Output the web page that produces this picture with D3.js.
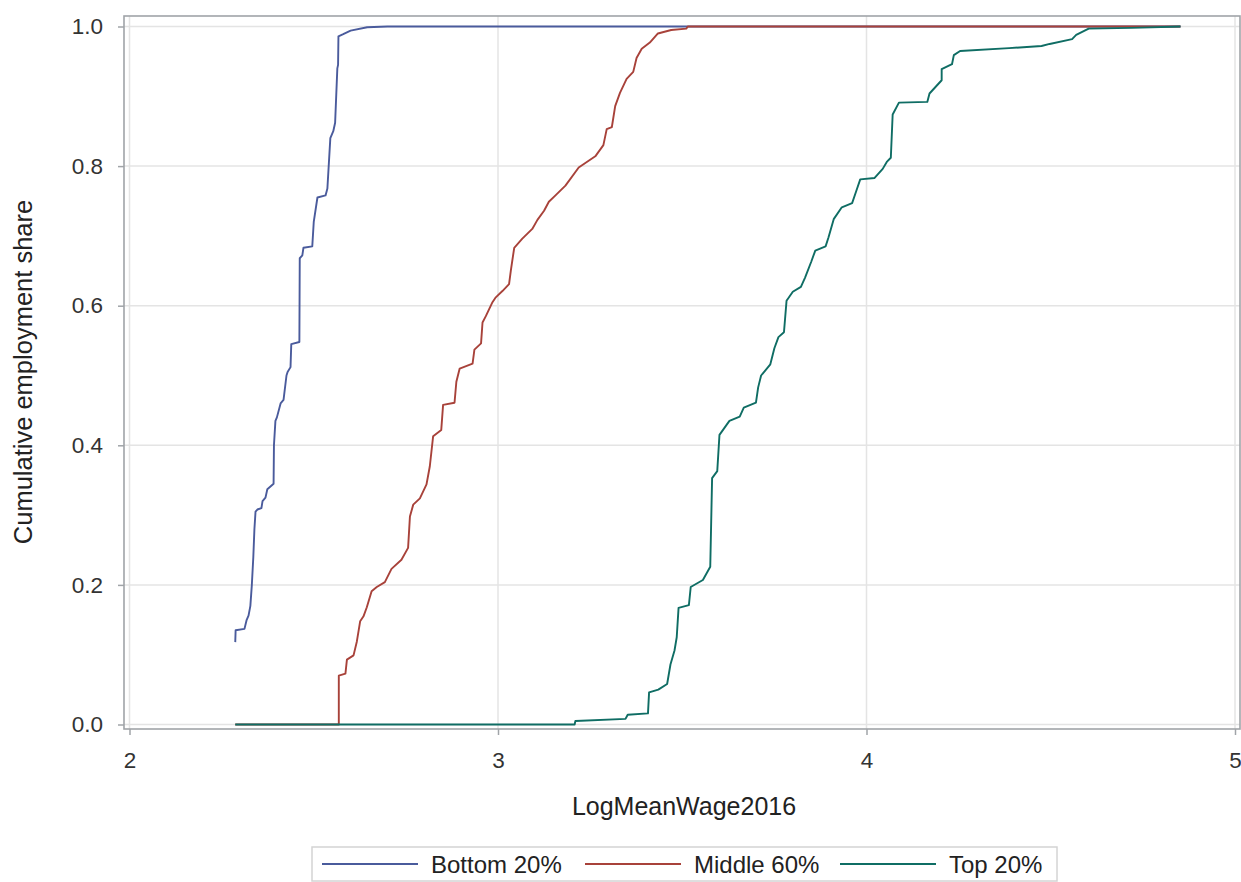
<!DOCTYPE html>
<html>
<head>
<meta charset="utf-8">
<script src="https://cdn.jsdelivr.net/npm/d3@7"></script>
<style>
  body { margin: 0; background: #fff; }
  svg text { font-family: "Liberation Sans", Arial, sans-serif; }
</style>
</head>
<body>
<div id="chart"></div>
<script>
// series names / colours
const seriesNames = ["Bottom 20%", "Middle 60%", "Top 20%"];
const seriesColors = ["#4a5b9c", "#A8423A", "#0f6d64"];

// Bottom 20%
const bottomX = [2.287, 2.288, 2.312, 2.318, 2.323, 2.328, 2.332, 2.336, 2.339, 2.342, 2.347, 2.358, 2.361, 2.369, 2.374, 2.391, 2.392, 2.396, 2.400, 2.410, 2.418, 2.426, 2.429, 2.437, 2.439, 2.461, 2.462, 2.469, 2.472, 2.496, 2.500, 2.510, 2.532, 2.537, 2.545, 2.553, 2.558, 2.564, 2.566, 2.567, 2.580, 2.600, 2.645, 2.700, 4.852];
const bottomY = [0.118, 0.135, 0.137, 0.150, 0.156, 0.170, 0.200, 0.240, 0.280, 0.305, 0.308, 0.310, 0.320, 0.325, 0.337, 0.345, 0.400, 0.435, 0.440, 0.460, 0.465, 0.500, 0.505, 0.512, 0.545, 0.548, 0.668, 0.672, 0.683, 0.685, 0.720, 0.755, 0.758, 0.768, 0.840, 0.850, 0.862, 0.940, 0.945, 0.986, 0.989, 0.994, 0.999, 1.000, 1.000];

// Middle 60%
const middleX = [2.287, 2.568, 2.568, 2.586, 2.590, 2.608, 2.617, 2.626, 2.635, 2.644, 2.657, 2.671, 2.693, 2.711, 2.738, 2.756, 2.761, 2.770, 2.788, 2.806, 2.815, 2.824, 2.846, 2.851, 2.882, 2.887, 2.896, 2.931, 2.936, 2.954, 2.958, 2.967, 2.985, 2.994, 3.012, 3.030, 3.035, 3.044, 3.066, 3.093, 3.107, 3.125, 3.138, 3.156, 3.183, 3.219, 3.264, 3.286, 3.295, 3.309, 3.318, 3.331, 3.349, 3.367, 3.376, 3.390, 3.412, 3.434, 3.470, 3.511, 3.515, 4.852];
const middleY = [0, 0, 0.070, 0.073, 0.093, 0.099, 0.119, 0.148, 0.155, 0.168, 0.191, 0.197, 0.204, 0.223, 0.236, 0.253, 0.298, 0.315, 0.324, 0.344, 0.370, 0.413, 0.422, 0.458, 0.461, 0.491, 0.510, 0.517, 0.537, 0.546, 0.576, 0.585, 0.605, 0.612, 0.621, 0.631, 0.651, 0.683, 0.696, 0.710, 0.723, 0.736, 0.749, 0.758, 0.772, 0.798, 0.814, 0.830, 0.853, 0.856, 0.886, 0.905, 0.925, 0.935, 0.955, 0.968, 0.977, 0.990, 0.995, 0.997, 1.000, 1.000];

// Top 20%
const topX = [2.287, 3.208, 3.210, 3.346, 3.352, 3.407, 3.410, 3.435, 3.459, 3.468, 3.479, 3.485, 3.490, 3.518, 3.523, 3.556, 3.576, 3.581, 3.595, 3.601, 3.628, 3.656, 3.667, 3.700, 3.706, 3.714, 3.739, 3.750, 3.761, 3.776, 3.783, 3.800, 3.822, 3.833, 3.850, 3.861, 3.889, 3.897, 3.911, 3.933, 3.961, 3.972, 3.983, 4.022, 4.044, 4.055, 4.066, 4.071, 4.088, 4.165, 4.171, 4.204, 4.204, 4.232, 4.237, 4.254, 4.387, 4.475, 4.497, 4.558, 4.569, 4.603, 4.719, 4.852];
const topY = [0, 0, 0.005, 0.008, 0.014, 0.016, 0.046, 0.050, 0.058, 0.086, 0.106, 0.125, 0.167, 0.171, 0.197, 0.207, 0.226, 0.353, 0.363, 0.415, 0.435, 0.441, 0.454, 0.461, 0.483, 0.500, 0.516, 0.539, 0.555, 0.562, 0.607, 0.620, 0.627, 0.640, 0.663, 0.679, 0.685, 0.698, 0.724, 0.741, 0.747, 0.764, 0.781, 0.783, 0.796, 0.806, 0.812, 0.874, 0.891, 0.892, 0.904, 0.923, 0.939, 0.946, 0.959, 0.965, 0.969, 0.972, 0.975, 0.982, 0.988, 0.997, 0.998, 1.000];

const xTicks = [2, 3, 4, 5];
const yTicks = [0, 0.2, 0.4, 0.6, 0.8, 1.0];
const xTitle = "LogMeanWage2016";
const yTitle = "Cumulative employment share";
const chartTitle = "Cumulative Distribution of LogMeanWage2016 by Wage Category (by group)";

const width = 1241, height = 882;
const frame = { left: 124, top: 16, right: 1240, bottom: 729 };

const svg = d3.select("#chart").append("svg")
  .attr("width", width)
  .attr("height", height);

const x = d3.scaleLinear().domain([2, 5]).range([129.5, 1235]);
const y = d3.scaleLinear().domain([0, 1]).range([724.5, 26.5]);

// title: sits above the page, only the tips of its descenders show
svg.append("text")
  .attr("x", 683).attr("y", -5)
  .attr("text-anchor", "middle")
  .style("font-size", "24px").style("font-weight", "bold")
  .style("fill", "#555")
  .text(chartTitle);

// grid
const grid = svg.append("g");
grid.selectAll(".gy").data(yTicks).enter().append("line")
  .attr("x1", frame.left).attr("x2", frame.right)
  .attr("y1", d => y(d)).attr("y2", d => y(d))
  .style("stroke", "#e4e4e4").style("stroke-width", 1.5);
grid.selectAll(".gx").data(xTicks).enter().append("line")
  .attr("x1", d => x(d)).attr("x2", d => x(d))
  .attr("y1", frame.top).attr("y2", frame.bottom)
  .style("stroke", "#e4e4e4").style("stroke-width", 1.5);

// axes
const yAxis = svg.append("g")
  .attr("transform", "translate(" + frame.left + ",0)")
  .call(d3.axisLeft(y).tickValues(yTicks).tickFormat(d3.format(".1f")).tickSize(6).tickPadding(15));
const xAxis = svg.append("g")
  .attr("transform", "translate(0," + frame.bottom + ")")
  .call(d3.axisBottom(x).tickValues(xTicks).tickFormat(d3.format("d")).tickSize(6).tickPadding(17));
[xAxis, yAxis].forEach(a => {
  a.select(".domain").remove();
  a.selectAll(".tick line").style("stroke", "#a0a4a8").style("stroke-width", 1.5);
  a.selectAll(".tick text")
    .style("font-size", "22.5px")
    .style("fill", "#333")
    .style("font-family", "'Liberation Sans', Arial, sans-serif");
});

// frame
svg.append("rect")
  .attr("x", frame.left).attr("y", frame.top)
  .attr("width", frame.right - frame.left)
  .attr("height", frame.bottom - frame.top)
  .style("fill", "none")
  .style("stroke", "#a0a4a8")
  .style("stroke-width", 1.6);

// lines
const series = [
  { name: seriesNames[0], color: seriesColors[0], xs: bottomX, ys: bottomY },
  { name: seriesNames[1], color: seriesColors[1], xs: middleX, ys: middleY },
  { name: seriesNames[2], color: seriesColors[2], xs: topX, ys: topY }
];
const line = d3.line().x(d => x(d[0])).y(d => y(d[1]));
series.forEach(s => {
  const pts = s.xs.map((v, i) => [v, s.ys[i]]);
  svg.append("path")
    .datum(pts)
    .attr("d", line)
    .style("fill", "none")
    .style("stroke", s.color)
    .style("stroke-width", 1.9)
    .style("stroke-linejoin", "round");
});

// axis titles
svg.append("text")
  .attr("x", (frame.left + frame.right) / 2 + 2).attr("y", 815)
  .attr("text-anchor", "middle")
  .style("font-size", "25px").style("fill", "#222")
  .text(xTitle);
svg.append("text")
  .attr("transform", "translate(32,372) rotate(-90)")
  .attr("text-anchor", "middle")
  .style("font-size", "25.5px").style("fill", "#222")
  .text(yTitle);

// legend
const legend = svg.append("g");
legend.append("rect")
  .attr("x", 312).attr("y", 847).attr("width", 745).attr("height", 34)
  .style("fill", "#fff").style("stroke", "#d4d4d4").style("stroke-width", 1.5);
const legendX = [322, 585, 840];
series.forEach((s, i) => {
  legend.append("line")
    .attr("x1", legendX[i]).attr("x2", legendX[i] + 96)
    .attr("y1", 864).attr("y2", 864)
    .style("stroke", s.color).style("stroke-width", 1.8);
  legend.append("text")
    .attr("x", legendX[i] + 109).attr("y", 873)
    .style("font-size", "24px").style("fill", "#222")
    .text(s.name);
});
</script>
</body>
</html>
